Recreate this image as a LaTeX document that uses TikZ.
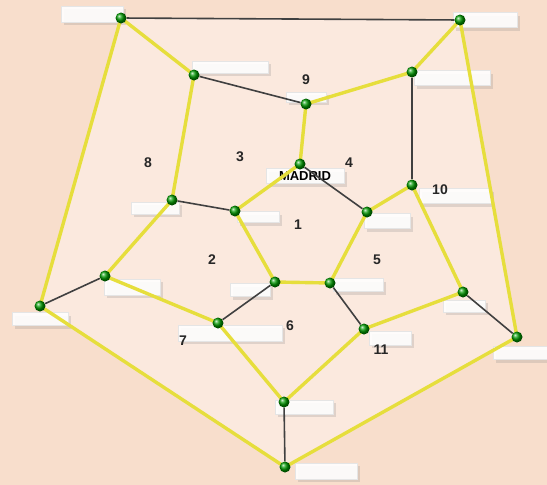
\documentclass[tikz,border=0pt]{standalone}
\usepackage{fontspec}
\setsansfont{Liberation Sans}
\usetikzlibrary{shadows,backgrounds}

\definecolor{peach}{RGB}{248,222,204}
\definecolor{peachlight}{RGB}{251,233,222}
\definecolor{hamyellow}{RGB}{230,222,60}

\begin{document}
\begin{tikzpicture}[
  x=1pt, y=-1pt,
  vtx/.style={circle, ball color=green!60!black, minimum size=11pt, inner sep=0pt},
  lbl/.style={rectangle, fill=white, fill opacity=0.9, draw=gray!20, inner sep=0pt,
    drop shadow={opacity=0.22, shadow xshift=3pt, shadow yshift=-3pt}},
  yedge/.style={line width=3.4pt, draw=hamyellow, line cap=round, line join=round},
  kedge/.style={line width=1.6pt, draw=black!75},
  num/.style={font=\sffamily\bfseries\fontsize{14}{16}\selectfont, text=black!85}
]
  \useasboundingbox (0,0) rectangle (547,485);

  % outer pentagon
  \node[vtx] (oA) at (121,18) {};
  \node[vtx] (oB) at (460,20) {};
  \node[vtx] (oD) at (517,337) {};
  \node[vtx] (oE) at (285,467) {};
  \node[vtx] (oC) at (40,306) {};
  % middle ring
  \node[vtx] (m1) at (194,75) {};
  \node[vtx] (m2) at (306,104) {};
  \node[vtx] (m3) at (412,72) {};
  \node[vtx] (m4) at (412,185) {};
  \node[vtx] (m5) at (463,292) {};
  \node[vtx] (m6) at (364,329) {};
  \node[vtx] (m7) at (284,402) {};
  \node[vtx] (m8) at (218,323) {};
  \node[vtx] (m9) at (105,276) {};
  \node[vtx] (m10) at (172,200) {};
  % inner pentagon
  \node[vtx] (i1) at (300,164) {};
  \node[vtx] (i2) at (367,212) {};
  \node[vtx] (i3) at (330,283) {};
  \node[vtx] (i4) at (275,282) {};
  \node[vtx] (i5) at (235,211) {};

  \begin{pgfonlayer}{background}
    \fill[peach] (0,0) rectangle (547,485);
    \fill[peachlight] (oA.center) -- (oB.center) -- (oD.center) -- (oE.center) -- (oC.center) -- cycle;

    % name plates
    \node[lbl, minimum width=62pt, minimum height=16pt] (lA) at (92,14) {};
    \node[lbl, minimum width=64pt, minimum height=15pt] (lB) at (485,20) {};
    \node[lbl, minimum width=76pt, minimum height=12pt] (lm1) at (230,67) {};
    \node[lbl, minimum width=40pt, minimum height=10pt] (lm2) at (306,97) {};
    \node[lbl, minimum width=76pt, minimum height=15pt] (lm3) at (452,78) {};
    \node[lbl, minimum width=72pt, minimum height=15pt] (lm4) at (455,196) {};
    \node[lbl, minimum width=42pt, minimum height=12pt] (lm5) at (464,306) {};
    \node[lbl, minimum width=42pt, minimum height=14pt] (lm6) at (390,338) {};
    \node[lbl, minimum width=58pt, minimum height=14pt] (lm7) at (304,407) {};
    \node[lbl, minimum width=104pt, minimum height=16pt] (lm8) at (230,333) {};
    \node[lbl, minimum width=56pt, minimum height=16pt] (lm9) at (132,287) {};
    \node[lbl, minimum width=48pt, minimum height=12pt] (lm10) at (155,208) {};
    \node[lbl, minimum width=42pt, minimum height=11pt] (li5) at (258,217) {};
    \node[lbl, minimum width=46pt, minimum height=15pt] (li2) at (387,221) {};
    \node[lbl, minimum width=50pt, minimum height=13pt] (li3) at (358,285) {};
    \node[lbl, minimum width=40pt, minimum height=13pt] (li4) at (250,290) {};
    \node[lbl, minimum width=56pt, minimum height=13pt] (lC) at (40,319) {};
    \node[lbl, minimum width=54pt, minimum height=13pt] (lD) at (520,353) {};
    \node[lbl, minimum width=62pt, minimum height=16pt] (lE) at (326,471) {};
    \node[lbl, minimum width=78pt, minimum height=15pt, text opacity=1,
      font=\sffamily\bfseries\fontsize{13}{14}\selectfont] (li1) at (305,176) {MADRID};

    % dark edges
    \draw[kedge] (oA) -- (oB);
    \draw[kedge] (oD) -- (m5);
    \draw[kedge] (oE) -- (m7);
    \draw[kedge] (oC) -- (m9);
    \draw[kedge] (m1) -- (m2);
    \draw[kedge] (m3) -- (m4);
    \draw[kedge] (m6) -- (i3);
    \draw[kedge] (m8) -- (i4);
    \draw[kedge] (m10) -- (i5);
    \draw[kedge] (i1) -- (i2);

    % the yellow tour
    \draw[yedge] (oA.center) -- (oC.center) -- (oE.center) -- (oD.center) -- (oB.center)
      -- (m3.center) -- (m2.center) -- (i1.center) -- (i5.center) -- (i4.center)
      -- (i3.center) -- (i2.center) -- (m4.center) -- (m5.center) -- (m6.center)
      -- (m7.center) -- (m8.center) -- (m9.center) -- (m10.center) -- (m1.center) -- cycle;
  \end{pgfonlayer}

  % face numbers
  \node[num] (f1) at (298,225) {1};
  \node[num] (f2) at (212,260) {2};
  \node[num] (f3) at (240,157) {3};
  \node[num] (f4) at (349,163) {4};
  \node[num] (f5) at (377,260) {5};
  \node[num] (f6) at (290,326) {6};
  \node[num] (f7) at (183,341) {7};
  \node[num] (f8) at (148,163) {8};
  \node[num] (f9) at (306,80) {9};
  \node[num] (f10) at (440,190) {10};
  \node[num] (f11) at (381,350) {11};
\end{tikzpicture}
\end{document}
